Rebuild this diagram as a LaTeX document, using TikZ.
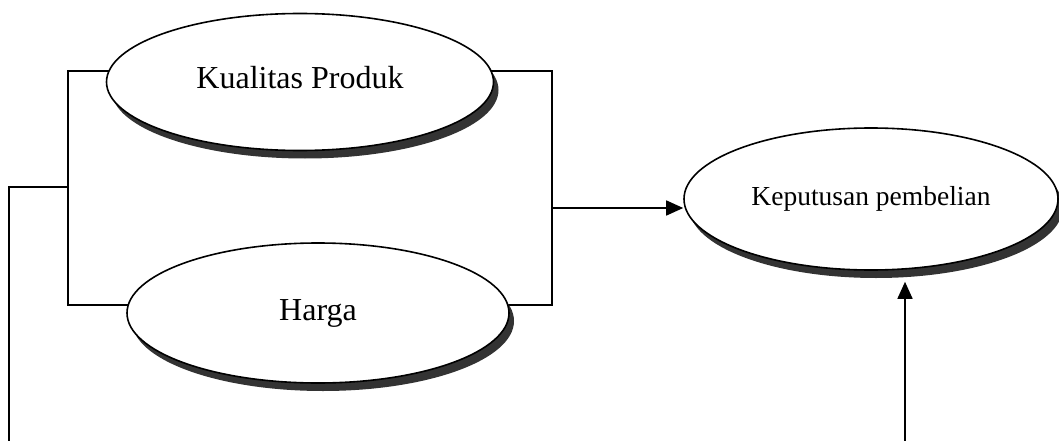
\documentclass[tikz,border=0pt]{standalone}
\usepackage{fontspec}
\setmainfont{Liberation Serif}
\usetikzlibrary{shapes.geometric, arrows.meta, shadows, backgrounds}
\tikzset{
  var/.style={
    draw, ellipse, fill=white, line width=1.6pt, inner sep=0pt,
    font=\fontsize{32}{38}\selectfont,
    drop shadow={shadow xshift=5pt, shadow yshift=-8pt, fill=black!80, opacity=1}
  },
  link/.style={draw, line width=1.6pt},
  arr/.style={link, -{Triangle[length=17pt, width=15pt]}},
}

\begin{document}
\begin{tikzpicture}[x=1pt, y=-1pt]
  \useasboundingbox (0,0) rectangle (1059,441);

  \node[var, minimum width=387pt, minimum height=137pt] (kp) at (300,82)
    {\raisebox{9pt}{Kualitas Produk}};
  \node[var, minimum width=382pt, minimum height=140pt] (hg) at (318,313) {Harga};
  \node[var, minimum width=374pt, minimum height=142pt,
        font=\fontsize{27.5}{33}\selectfont] (kep) at (871,199) {Keputusan pembelian};

  % titik sudut penghubung
  \coordinate (lt) at (68,71);
  \coordinate (lb) at (68,305);
  \coordinate (rt) at (552,71);
  \coordinate (rb) at (552,305);
  \coordinate (lm) at (68,187);
  \coordinate (lo) at (9,187);
  \coordinate (le) at (9,441);
  \coordinate (rm) at (552,208);
  \coordinate (ue) at (905,441);

  % kurung kiri dan kanan di belakang elips
  \begin{scope}[on background layer]
    \draw[link] (lt -| kp.center) -- (lt) -- (lb) -- (lb -| hg.center);
    \draw[link] (rt -| kp.center) -- (rt) -- (rb) -- (rb -| hg.center);
  \end{scope}

  % garis luar dan panah
  \draw[link] (lm) -- (lo) -- (le);
  \draw[arr] (rm) -- (rm -| kep.west);
  \draw[arr, shorten >=11pt] (ue) -- (ue |- kep.south);
\end{tikzpicture}
\end{document}
